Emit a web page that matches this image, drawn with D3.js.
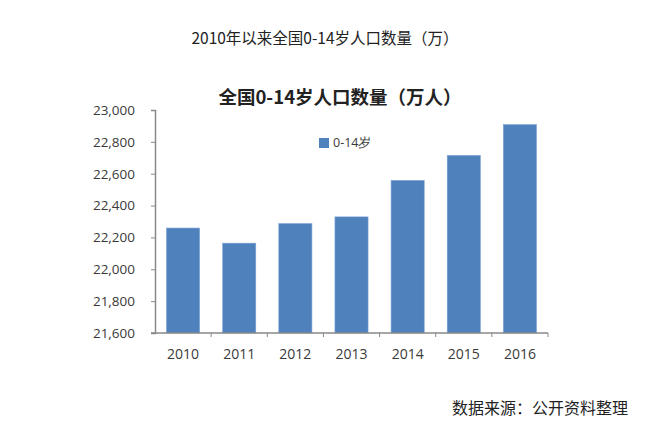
<!DOCTYPE html>
<html>
<head>
<meta charset="utf-8">
<script src="https://cdn.jsdelivr.net/npm/d3@7/dist/d3.min.js"></script>
<style>
  html, body { margin: 0; padding: 0; background: #fff; }
  svg { display: block; }
</style>
</head>
<body>
<div id="chart"></div>
<script>
(function () {
  'use strict';

  // --- Data ---
  var years = ['2010', '2011', '2012', '2013', '2014', '2015', '2016'];
  var population = [22259, 22164, 22287, 22329, 22558, 22715, 22908];
  var yTicks = [21600, 21800, 22000, 22200, 22400, 22600, 22800, 23000];
  var seriesName = '0-14岁';

  var width = 653, height = 428;
  var plot = { left: 155, right: 548, top: 110, bottom: 333 };
  var cjk = '"Noto Sans CJK SC", "Noto Sans", sans-serif';
  var latin = '"Open Sans", "DejaVu Sans", sans-serif';
  var barColor = '#4F81BD';
  var axisColor = '#898989';

  var svg = d3.select('#chart').append('svg')
    .attr('width', width)
    .attr('height', height);

  // Page caption
  svg.append('text')
    .attr('x', 325).attr('y', 44)
    .attr('text-anchor', 'middle')
    .attr('font-family', cjk)
    .attr('font-size', '15.5px')
    .attr('fill', '#222')
    .text('2010年以来全国0-14岁人口数量（万）');

  // Chart title
  svg.append('text')
    .attr('x', 340).attr('y', 104)
    .attr('text-anchor', 'middle')
    .attr('font-family', cjk)
    .attr('font-size', '18.5px')
    .attr('font-weight', 'bold')
    .attr('fill', '#222')
    .text('全国0-14岁人口数量（万人）');

  var x = d3.scaleBand()
    .domain(years)
    .range([plot.left, plot.right])
    .paddingInner(0.41)
    .paddingOuter(0.205);

  var y = d3.scaleLinear()
    .domain([21600, 23000])
    .range([plot.bottom, plot.top]);

  // Bars
  svg.append('g').selectAll('rect')
    .data(years)
    .join('rect')
    .attr('x', function (d) { return x(d); })
    .attr('y', function (d, i) { return y(population[i]); })
    .attr('width', x.bandwidth())
    .attr('height', function (d, i) { return plot.bottom - y(population[i]); })
    .attr('fill', barColor)
    .attr('stroke', '#7da3d4')
    .attr('stroke-width', 0.6);

  // Y axis
  var yAxis = svg.append('g')
    .attr('transform', 'translate(' + plot.left + ',0)')
    .call(d3.axisLeft(y).tickValues(yTicks).tickSize(4).tickPadding(16)
      .tickFormat(d3.format(',')));
  yAxis.select('.domain').attr('stroke', axisColor).attr('stroke-width', 1.5);
  yAxis.selectAll('.tick line').attr('stroke', axisColor);
  yAxis.selectAll('.tick text')
    .attr('font-family', latin)
    .attr('font-size', '13.5px')
    .attr('fill', '#3a3a3a');

  // X axis: baseline with ticks at category boundaries
  var step = x.step();
  var bounds = d3.range(years.length + 1).map(function (i) { return plot.left + i * step; });
  var xAxis = svg.append('g');
  xAxis.append('line')
    .attr('x1', plot.left - 4).attr('x2', plot.right)
    .attr('y1', plot.bottom).attr('y2', plot.bottom)
    .attr('stroke', axisColor).attr('stroke-width', 1.5);
  xAxis.selectAll('line.tk')
    .data(bounds.slice(1))
    .join('line')
    .attr('class', 'tk')
    .attr('x1', function (d) { return d; }).attr('x2', function (d) { return d; })
    .attr('y1', plot.bottom).attr('y2', plot.bottom + 4)
    .attr('stroke', axisColor);
  xAxis.selectAll('text')
    .data(years)
    .join('text')
    .attr('x', function (d) { return x(d) + x.bandwidth() / 2; })
    .attr('y', 359)
    .attr('text-anchor', 'middle')
    .attr('font-family', latin)
    .attr('font-size', '14px')
    .attr('fill', '#3a3a3a')
    .text(function (d) { return d; });

  // Legend
  svg.append('rect')
    .attr('x', 319).attr('y', 138)
    .attr('width', 10).attr('height', 10)
    .attr('fill', barColor);
  svg.append('text')
    .attr('x', 333).attr('y', 147)
    .attr('font-family', latin)
    .attr('font-size', '12.5px')
    .attr('fill', '#3a3a3a')
    .text(seriesName);

  // Source
  svg.append('text')
    .attr('x', 628).attr('y', 414)
    .attr('text-anchor', 'end')
    .attr('font-family', cjk)
    .attr('font-size', '16px')
    .attr('fill', '#222')
    .text('数据来源：公开资料整理');
})();
</script>
</body>
</html>
